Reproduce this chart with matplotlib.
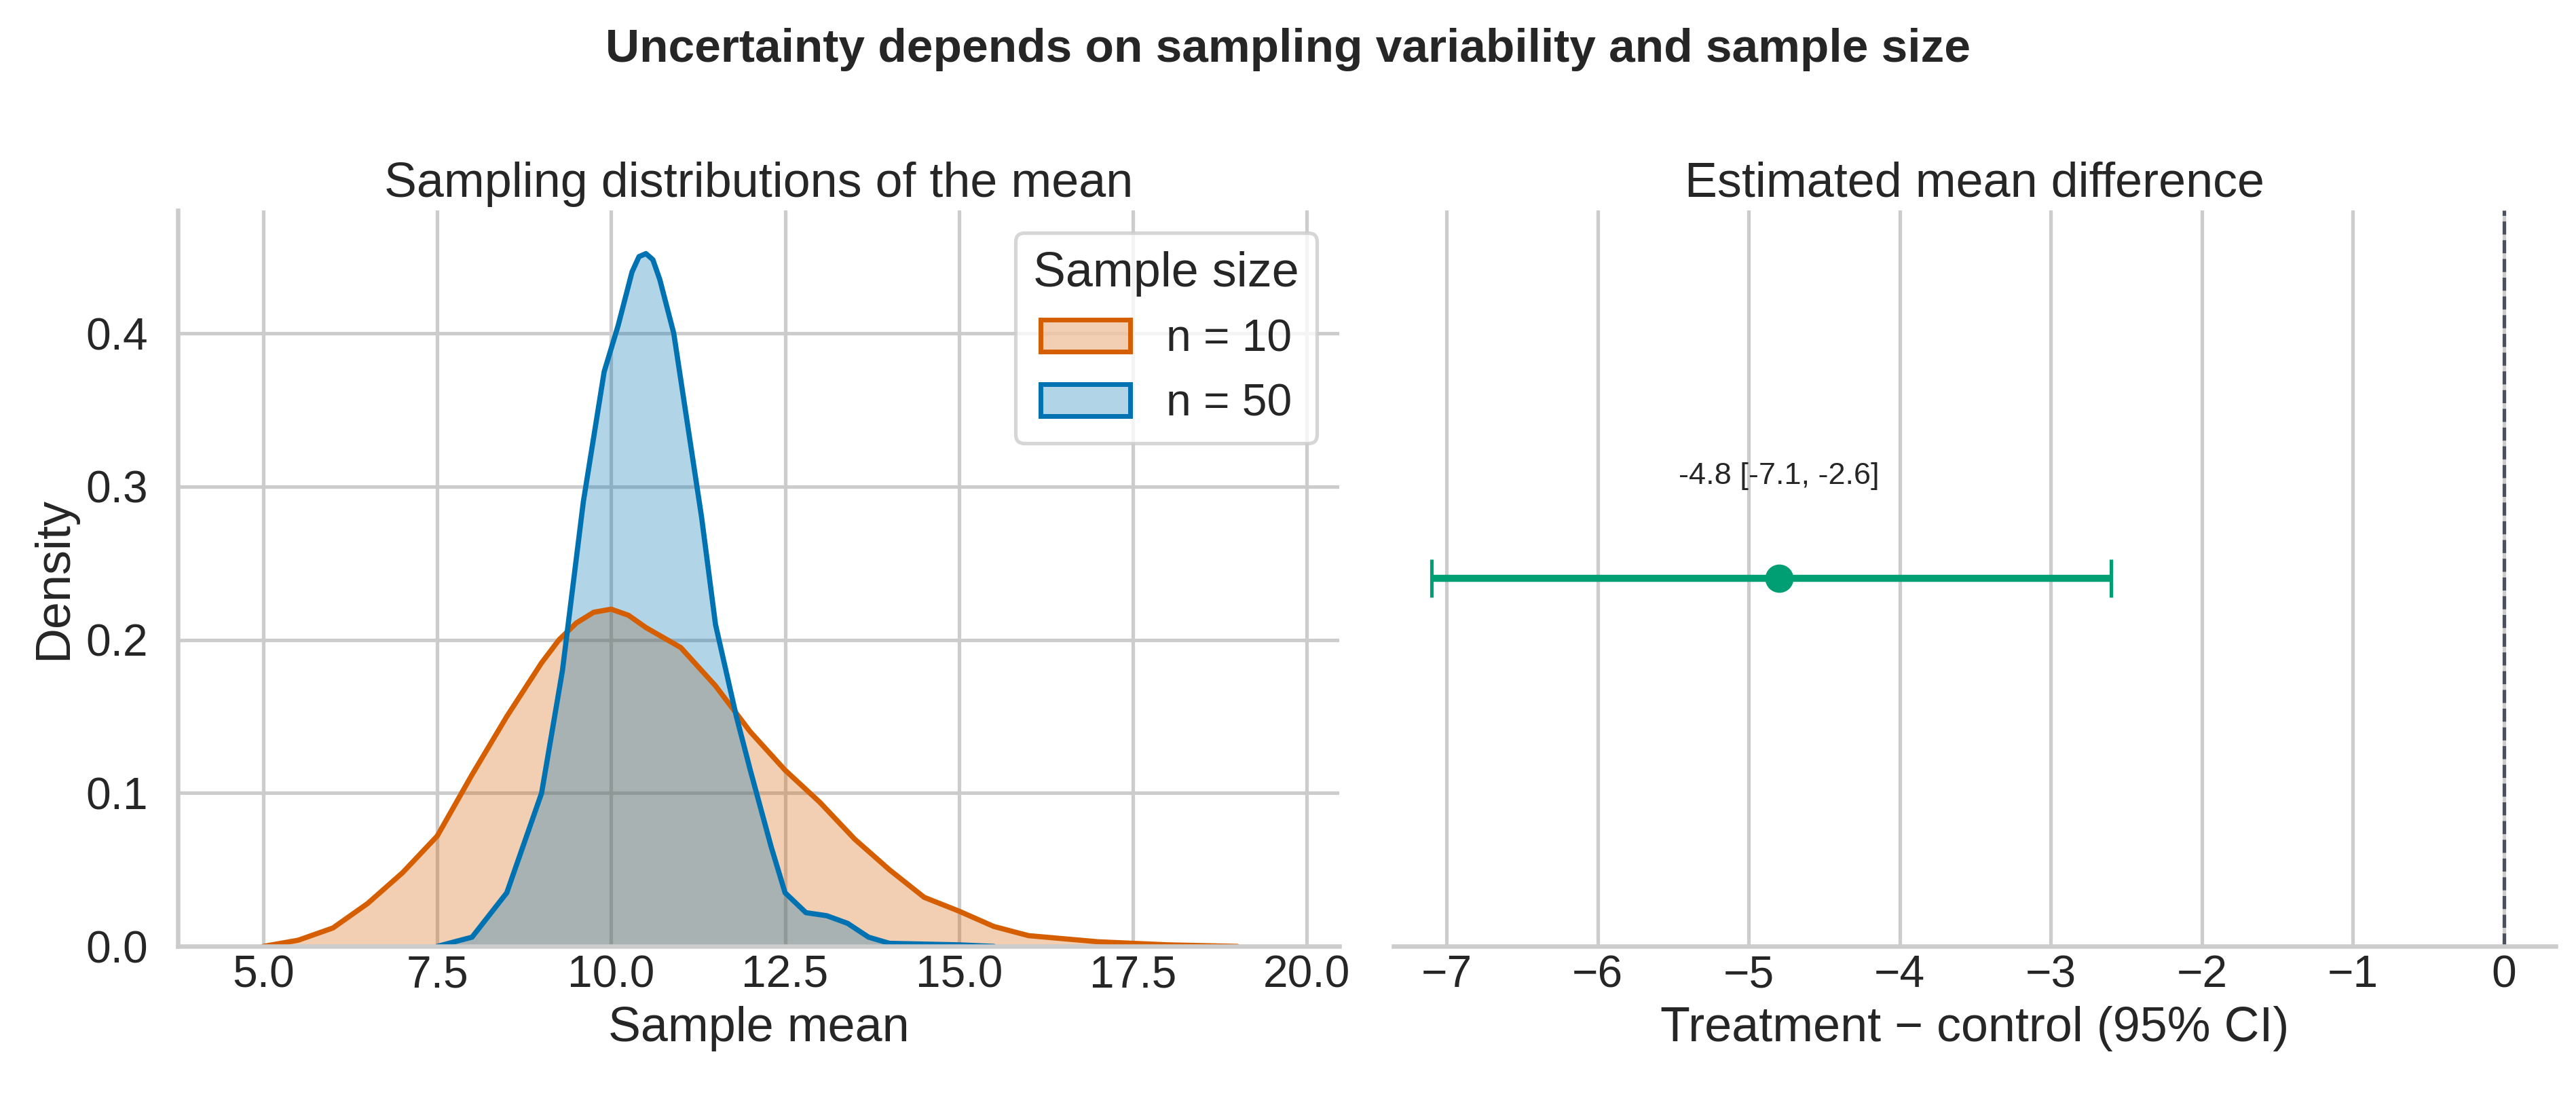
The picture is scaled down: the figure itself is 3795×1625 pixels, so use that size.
import matplotlib
matplotlib.use("Agg")
import matplotlib.pyplot as plt
import seaborn as sns
from matplotlib.patches import Patch

# density curves (sample mean -> density)
x_n10 = [5.0, 5.5, 6.0, 6.5, 7.0, 7.5, 8.0, 8.5, 9.0, 9.25, 9.5, 9.75, 10.0, 10.25,
         10.5, 11.0, 11.5, 12.0, 12.5, 13.0, 13.5, 14.0, 14.5, 15.0, 15.5, 16.0,
         17.0, 18.0, 19.0]
d_n10 = [0.0, 0.004, 0.012, 0.028, 0.048, 0.072, 0.112, 0.15, 0.185, 0.2, 0.211,
         0.218, 0.22, 0.216, 0.208, 0.195, 0.17, 0.14, 0.115, 0.094, 0.07, 0.05,
         0.032, 0.023, 0.013, 0.007, 0.003, 0.001, 0.0]
x_n50 = [7.5, 8.0, 8.5, 9.0, 9.3, 9.6, 9.9, 10.1, 10.3, 10.4, 10.5, 10.6, 10.7, 10.9,
         11.1, 11.3, 11.5, 11.8, 12.0, 12.3, 12.5, 12.8, 13.1, 13.4, 13.7, 14.0,
         15.0, 15.5]
d_n50 = [0.0, 0.006, 0.035, 0.1, 0.18, 0.29, 0.375, 0.405, 0.44, 0.45, 0.452, 0.448,
         0.435, 0.4, 0.34, 0.28, 0.21, 0.15, 0.115, 0.065, 0.035, 0.022, 0.02,
         0.015, 0.006, 0.002, 0.001, 0.0]

diff_est = -4.8
diff_lo = -7.1
diff_hi = -2.6

sns.set_theme(style="whitegrid", context="talk", font_scale=1.15)
plt.rcParams["font.family"] = ["Liberation Sans", "DejaVu Sans"]
orange, blue, green = "#d55e00", "#0072b2", "#009e73"

fig = plt.figure(figsize=(15.18, 6.5), dpi=250)
ax1 = fig.add_axes([0.069, 0.142, 0.451, 0.667])
ax2 = fig.add_axes([0.541, 0.142, 0.451, 0.667])

ax1.fill_between(x_n10, d_n10, color=orange, alpha=0.3, lw=0)
ax1.plot(x_n10, d_n10, color=orange, lw=2.2)
ax1.fill_between(x_n50, d_n50, color=blue, alpha=0.3, lw=0)
ax1.plot(x_n50, d_n50, color=blue, lw=2.2)
ax1.set_xlim(3.77, 20.47)
ax1.set_ylim(0, 0.48)
ax1.set_xticks([5.0, 7.5, 10.0, 12.5, 15.0, 17.5, 20.0])
ax1.set_yticks([0.0, 0.1, 0.2, 0.3, 0.4])
ax1.set_xlabel("Sample mean")
ax1.set_ylabel("Density")
ax1.set_title("Sampling distributions of the mean")
handles = [Patch(facecolor=(0.835, 0.369, 0.0, 0.3), edgecolor=orange, lw=2,
                 label="n = 10"),
           Patch(facecolor=(0.0, 0.447, 0.698, 0.3), edgecolor=blue, lw=2,
                 label="n = 50")]
ax1.legend(handles=handles, title="Sample size", loc="upper right")

ax2.errorbar([diff_est], [0], xerr=[[diff_est - diff_lo], [diff_hi - diff_est]],
             fmt="o", color=green, ms=11, lw=3, capsize=8, capthick=1.5)
ax2.axvline(0, color="#4a5060", ls="--", lw=1.5)
ax2.text(diff_est, 0.12, f"{diff_est} [{diff_lo}, {diff_hi}]", ha="center",
         va="bottom", fontsize=13)
ax2.set_ylim(-0.5, 0.5)
ax2.set_yticks([])
ax2.set_xlim(-7.35, 0.34)
ax2.set_xticks(range(-7, 1))
ax2.set_xlabel("Treatment \u2212 control (95% CI)")
ax2.set_title("Estimated mean difference")

sns.despine(ax=ax1)
sns.despine(ax=ax2, left=True)
for ax in (ax1, ax2):
    ax.spines["bottom"].set_color("#cccccc")
    ax.spines["left"].set_color("#cccccc")
    ax.tick_params(axis="x", length=0)

fig.suptitle("Uncertainty depends on sampling variability and sample size",
             fontweight="bold", fontsize=20, y=0.975)
fig.savefig("out.png", dpi=250)
